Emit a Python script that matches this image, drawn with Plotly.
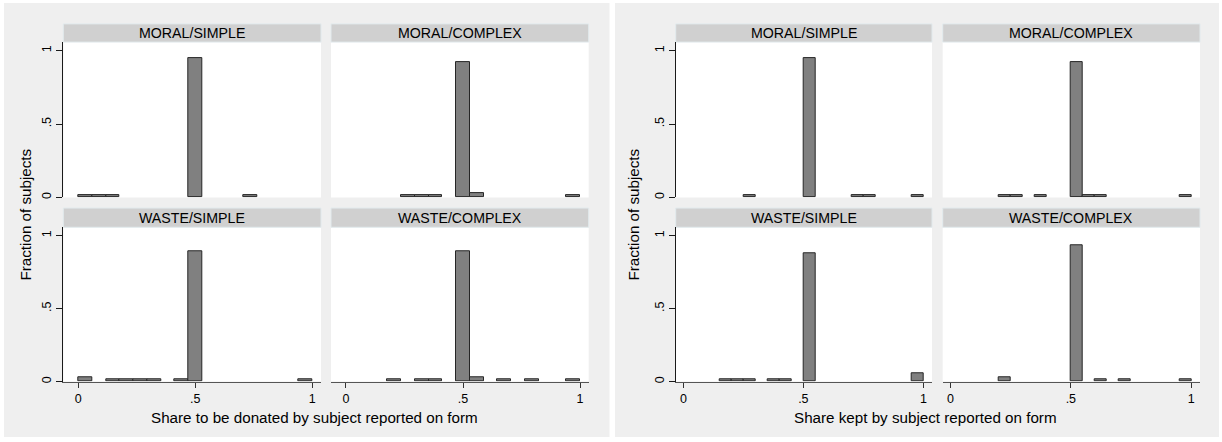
import plotly.graph_objects as go

W, H = 1222, 442

# ---------------- data ----------------
panel_titles = ["MORAL/SIMPLE", "MORAL/COMPLEX", "WASTE/SIMPLE", "WASTE/COMPLEX"]
x_titles = ["Share to be donated by subject reported on form",
            "Share kept by subject reported on form"]
y_title = "Fraction of subjects"
tick_vals = [0, 0.5, 1]
tick_text = ["0", ".5", "1"]

# left graph: 17 equal bins on [0, 1]
donated_nbins = 17
donated_moral_simple = [0.016, 0.016, 0.016, 0, 0, 0, 0, 0, 0.950, 0, 0, 0, 0.016, 0, 0, 0, 0]
donated_moral_complex = [0, 0, 0, 0, 0.016, 0.016, 0.016, 0, 0.922, 0.029, 0, 0, 0, 0, 0, 0, 0.016]
donated_waste_simple = [0.027, 0, 0.014, 0.014, 0.014, 0.014, 0, 0.014, 0.893, 0, 0, 0, 0, 0, 0, 0, 0.014]
donated_waste_complex = [0, 0, 0, 0.014, 0, 0.014, 0.014, 0, 0.896, 0.027, 0, 0.014, 0, 0.014, 0, 0, 0.014]

# right graph: 20 equal bins on [0, 1]
kept_nbins = 20
kept_moral_simple = [0, 0, 0, 0, 0, 0.016, 0, 0, 0, 0, 0.950, 0, 0, 0, 0.016, 0.016, 0, 0, 0, 0.016]
kept_moral_complex = [0, 0, 0, 0, 0.016, 0.016, 0, 0.016, 0, 0, 0.922, 0.016, 0.016, 0, 0, 0, 0, 0, 0, 0.016]
kept_waste_simple = [0, 0, 0, 0.014, 0.014, 0.014, 0, 0.014, 0.014, 0, 0.882, 0, 0, 0, 0, 0, 0, 0, 0, 0.057]
kept_waste_complex = [0, 0, 0, 0, 0.027, 0, 0, 0, 0, 0, 0.937, 0, 0.013, 0, 0.013, 0, 0, 0, 0, 0.013]

graphs = [
    dict(nbins=donated_nbins,
         series=[donated_moral_simple, donated_moral_complex, donated_waste_simple, donated_waste_complex],
         xrange=[-0.064, 1.037],
         cols=[(63.3, 321.0), (331.0, 588.7)],
         panel=(4, 609.5), xtitle=x_titles[0], ytitle_x=26, xtitle_x=314),
    dict(nbins=kept_nbins,
         series=[kept_moral_simple, kept_moral_complex, kept_waste_simple, kept_waste_complex],
         xrange=[-0.032, 1.036],
         cols=[(675.7, 932.0), (942.7, 1200.0)],
         panel=(615, 1219), xtitle=x_titles[1], ytitle_x=634, xtitle_x=925.5),
]

# rows: (header top, header bottom / plot top, plot bottom)
rows = [(24.0, 42.3, 198.3), (209.0, 228.3, 383.3)]
yrange = [0, 1.058]

FONT = "Liberation Sans, Arial, Helvetica, sans-serif"
BAR_FILL = "#808080"
BAR_LINE = "#262626"
PANEL_BG = "#efefef"
HEADER_BG = "#d0d0d0"
HEADER_LINE = "#e2eaed"

def px(x):
    return x / W

def py(y):
    return 1 - y / H

fig = go.Figure()
shapes = []
annotations = []
layout_axes = {}

# panel backgrounds first
for g in graphs:
    shapes.append(dict(type="rect", xref="paper", yref="paper", layer="below",
                       x0=px(g["panel"][0]), x1=px(g["panel"][1]), y0=py(439), y1=py(3),
                       fillcolor=PANEL_BG, line=dict(width=0)))

k = 0
for gi, g in enumerate(graphs):
    nb = g["nbins"]
    bw = 1.0 / nb
    centers = [(i + 0.5) * bw for i in range(nb)]
    for si, vals in enumerate(g["series"]):
        r, c = divmod(si, 2)
        k += 1
        xa = "x" if k == 1 else f"x{k}"
        ya = "y" if k == 1 else f"y{k}"
        x0, x1 = g["cols"][c]
        ht, pt, pb = rows[r]
        # white plot region
        shapes.append(dict(type="rect", xref="paper", yref="paper", layer="below",
                           x0=px(x0), x1=px(x1), y0=py(pb), y1=py(pt),
                           fillcolor="white", line=dict(width=0)))
        # header strip
        shapes.append(dict(type="rect", xref="paper", yref="paper", layer="below",
                           x0=px(x0), x1=px(x1), y0=py(pt), y1=py(ht),
                           fillcolor=HEADER_BG, line=dict(color=HEADER_LINE, width=1)))
        annotations.append(dict(text=panel_titles[si], xref="paper", yref="paper",
                                x=px((x0 + x1) / 2), y=py((ht + pt) / 2),
                                xanchor="center", yanchor="middle", showarrow=False,
                                font=dict(size=14.2, color="black", family=FONT)))
        xs = [cx for cx, v in zip(centers, vals) if v > 0]
        ys = [v for v in vals if v > 0]
        fig.add_trace(go.Bar(x=xs, y=ys, width=bw, xaxis=xa, yaxis=ya,
                             marker=dict(color=BAR_FILL, line=dict(color=BAR_LINE, width=1)),
                             showlegend=False, hoverinfo="x+y"))
        bottom = (r == 1)
        left = (c == 0)
        layout_axes["xaxis" if k == 1 else f"xaxis{k}"] = dict(
            domain=[px(x0), px(x1)], anchor=ya, range=g["xrange"],
            showgrid=False, zeroline=False, fixedrange=True,
            showline=bottom, linecolor="#555555", linewidth=1,
            ticks="outside" if bottom else "", ticklen=5, tickcolor="#333333", tickwidth=1,
            tickvals=tick_vals, ticktext=tick_text, showticklabels=bottom,
            tickfont=dict(size=12.5, color="black", family=FONT))
        layout_axes["yaxis" if k == 1 else f"yaxis{k}"] = dict(
            domain=[py(pb), py(pt)], anchor=xa, range=yrange,
            showgrid=False, zeroline=False, fixedrange=True,
            showline=left, linecolor="#1a1a1a", linewidth=1,
            ticks="outside" if left else "", ticklen=6, tickcolor="#1a1a1a", tickwidth=1,
            tickvals=tick_vals, ticktext=tick_text, showticklabels=left, tickangle=-90,
            tickfont=dict(size=12.5, color="black", family=FONT))
    # axis titles
    annotations.append(dict(text=g["xtitle"], xref="paper", yref="paper",
                            x=px(g["xtitle_x"]), y=py(419), xanchor="center", yanchor="middle",
                            showarrow=False, font=dict(size=15.2, color="black", family=FONT)))
    annotations.append(dict(text=y_title, xref="paper", yref="paper",
                            x=px(g["ytitle_x"]), y=py(215.5), xanchor="center", yanchor="middle",
                            textangle=-90, showarrow=False,
                            font=dict(size=15.2, color="black", family=FONT)))

fig.update_layout(
    width=W, height=H, margin=dict(l=0, r=0, t=0, b=0),
    paper_bgcolor="white", plot_bgcolor="rgba(0,0,0,0)",
    shapes=shapes, annotations=annotations, bargap=0,
    showlegend=False, font=dict(family=FONT),
    **layout_axes)

fig.write_html("out.html", config={"displayModeBar": False},
               post_script="document.body.style.margin='0px';document.body.style.overflow='hidden';")
